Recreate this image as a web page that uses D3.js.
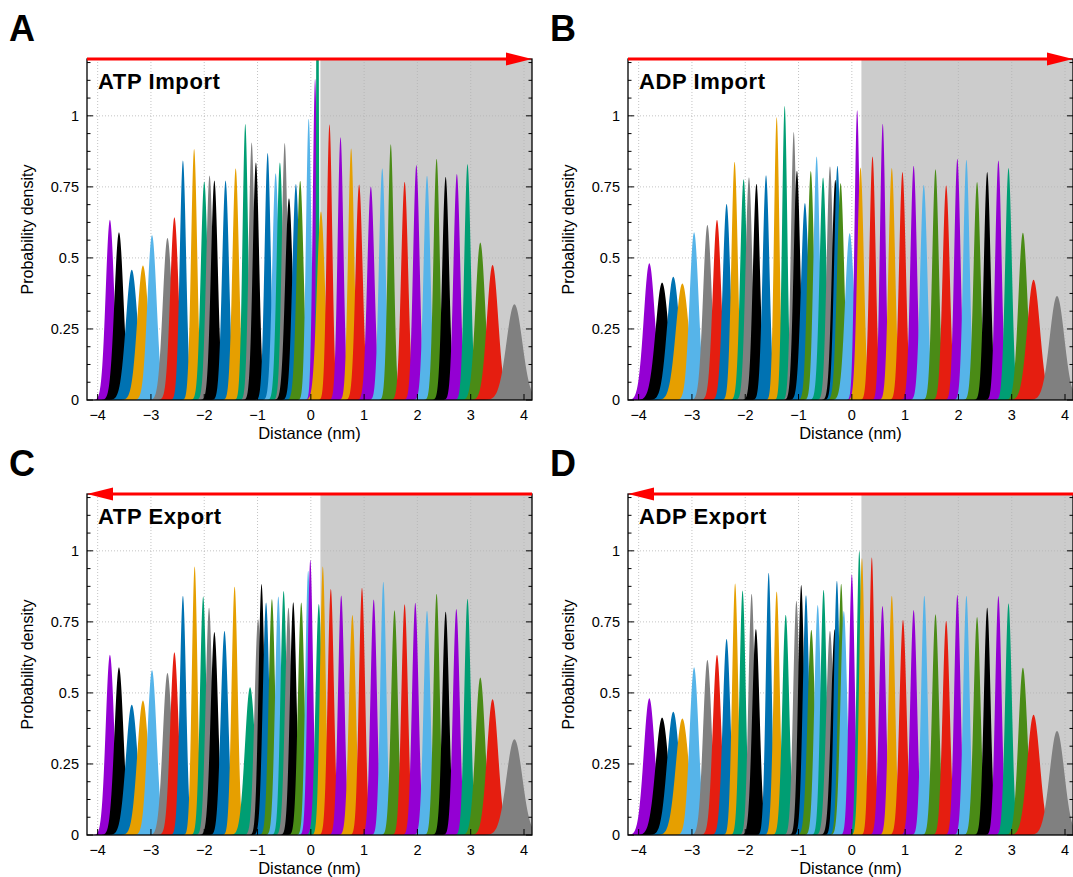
<!DOCTYPE html>
<html>
<head>
<meta charset="utf-8">
<script src="https://cdn.jsdelivr.net/npm/d3@7"></script>
<style>
  html, body { margin: 0; padding: 0; background: #ffffff; }
  svg { display: block; font-family: "Liberation Sans", Arial, Helvetica, sans-serif; }
</style>
</head>
<body>
<svg id="chart" width="1073" height="877"></svg>
<script>
// Umbrella-window distributions along the transport coordinate.
// Each window: centre (nm) and peak height (probability density).

const xTickValues = [-4, -3, -2, -1, 0, 1, 2, 3, 4];
const yTickValues = [0, 0.25, 0.5, 0.75, 1];
const yTickLabels = ["0", "0.25", "0.5", "0.75", "1"];

const panelLetters = ["A", "B", "C", "D"];
const panelTitles = ["ATP Import", "ADP Import", "ATP Export", "ADP Export"];
const arrowDirections = ["right", "right", "left", "left"];

// membrane region start (nm)
const shadeStart = 0.18;

// ATP import
const centersA = [-3.77,-3.60,-3.36,-3.15,-2.98,-2.69,-2.56,-2.40,-2.19,-2.00,-1.90,-1.81,-1.60,-1.41,-1.23,-1.11,-1.03,-0.81,-0.66,-0.58,-0.49,-0.41,-0.28,-0.20,-0.04,0.08,0.125,0.19,0.35,0.557,0.756,0.906,1.126,1.34,1.50,1.76,1.98,2.18,2.36,2.53,2.74,2.94,3.18,3.41,3.82];
const heightsA = [0.634,0.59,0.458,0.473,0.58,0.57,0.643,0.843,0.883,0.769,0.79,0.772,0.772,0.815,0.971,0.906,0.836,0.869,0.798,0.836,0.904,0.71,0.76,0.771,0.99,1.13,2.5,0.663,0.97,0.925,0.885,0.758,0.751,0.815,0.90,0.768,0.827,0.789,0.849,0.785,0.795,0.83,0.554,0.475,0.337];

// ADP import
const centersB = [-3.80,-3.56,-3.35,-3.18,-2.96,-2.71,-2.53,-2.35,-2.20,-2.03,-1.93,-1.79,-1.61,-1.41,-1.26,-1.09,-1.03,-0.88,-0.77,-0.66,-0.54,-0.41,-0.31,-0.27,-0.21,-0.04,0.10,0.163,0.388,0.58,0.75,0.95,1.16,1.35,1.57,1.77,1.98,2.15,2.35,2.54,2.75,2.94,3.21,3.41,3.85];
const heightsB = [0.481,0.413,0.434,0.41,0.59,0.616,0.634,0.69,0.838,0.777,0.784,0.761,0.791,0.995,1.035,0.943,0.807,0.693,0.806,0.857,0.783,0.822,0.775,0.824,0.763,0.587,1.02,0.818,0.857,0.972,0.816,0.802,0.824,0.757,0.812,0.755,0.849,0.845,0.767,0.802,0.843,0.816,0.589,0.423,0.366];

// ATP export
const centersC = [-3.77,-3.60,-3.36,-3.15,-2.98,-2.69,-2.56,-2.40,-2.18,-2.02,-1.91,-1.81,-1.62,-1.43,-1.14,-0.99,-0.925,-0.84,-0.73,-0.61,-0.51,-0.42,-0.33,-0.18,-0.05,-0.01,0.15,0.225,0.375,0.57,0.78,0.96,1.18,1.36,1.57,1.76,1.96,2.18,2.36,2.53,2.73,2.94,3.18,3.41,3.82];
const heightsC = [0.634,0.59,0.458,0.473,0.58,0.57,0.643,0.842,0.945,0.839,0.80,0.714,0.718,0.874,0.52,0.759,0.883,0.818,0.83,0.839,0.859,0.80,0.819,0.818,0.93,0.968,0.813,0.945,0.866,0.843,0.774,0.87,0.829,0.891,0.791,0.812,0.817,0.789,0.849,0.786,0.795,0.831,0.554,0.478,0.337];

// ADP export
const centersD = [-3.80,-3.56,-3.35,-3.18,-2.96,-2.71,-2.53,-2.35,-2.19,-2.05,-1.88,-1.80,-1.56,-1.41,-1.24,-1.04,-0.95,-0.86,-0.76,-0.64,-0.53,-0.41,-0.32,-0.28,-0.20,-0.15,0.0,0.14,0.19,0.375,0.575,0.75,0.96,1.16,1.36,1.57,1.77,1.98,2.15,2.35,2.54,2.75,2.94,3.21,3.41,3.85];
const heightsD = [0.481,0.413,0.434,0.41,0.59,0.616,0.634,0.69,0.885,0.86,0.849,0.725,0.923,0.857,0.775,0.824,0.88,0.844,0.722,0.809,0.863,0.718,0.724,0.895,0.884,0.788,0.918,1.0,0.974,0.977,0.806,0.842,0.757,0.792,0.842,0.777,0.754,0.845,0.842,0.767,0.8,0.841,0.815,0.589,0.423,0.366];

// line colours of each window, in drawing order
const palette = {
  P: "#9400d3", K: "#000000", B: "#0072b2", O: "#e69f00", S: "#56b4e9",
  G: "#808080", R: "#e51e10", T: "#009e73", L: "#4a8b16"
};
const colorKeysA = "P K B O S G R B O T G K B O T G K B S T G K B L S P T O R P O R P S L R P S L K P T L R G".split(" ");
const colorKeysB = "P K B O S G R B O T G K B O T G K B L S T G K B L S P O R P O R P S L R P S L K P T L R G".split(" ");
const colorKeysC = "P K B O S G R B O T G K B O T G K B L S T G K L S P T O R P O R P S L R P S L K P T L R G".split(" ");
const colorKeysD = "P K B O S G R B O T G K B O T G K B L S T G K B L S P T O R P O R P S L R P S L K P T L R G".split(" ");

const panels = [
  { centers: centersA, heights: heightsA, keys: colorKeysA },
  { centers: centersB, heights: heightsB, keys: colorKeysB },
  { centers: centersC, heights: heightsC, keys: colorKeysC },
  { centers: centersD, heights: heightsD, keys: colorKeysD }
];

// every window histogram carries the same integrated weight
const windowWeight = 0.125;

// ---- layout ----
const offsets = [[0, 0], [541, 0], [0, 435], [541, 435]];
const plot = { left: 87, right: 532, top: 59, bottom: 400 };

const x = d3.scaleLinear().domain([-4.2, 4.15]).range([plot.left, plot.right]);
const y = d3.scaleLinear().domain([0, 1.2]).range([plot.bottom, plot.top]);

const svg = d3.select("#chart");

const area = d3.area()
  .x(d => x(d[0]))
  .y0(y(0))
  .y1(d => y(d[1]));

function windowCurve(c, h) {
  const s = windowWeight / (h * Math.sqrt(2 * Math.PI));
  const pts = [];
  const n = 160;
  for (let i = 0; i <= n; i++) {
    const u = -5 + 10 * i / n;
    pts.push([c + u * s, h * Math.exp(-0.5 * u * u)]);
  }
  return pts;
}

const minorY = d3.range(0, 1.2, 0.0625).filter(v => Math.abs(v / 0.25 - Math.round(v / 0.25)) > 1e-6);

panels.forEach((p, pi) => {
  const [ox, oy] = offsets[pi];
  const g = svg.append("g").attr("transform", `translate(${ox},${oy})`);

  const clipId = "clip" + pi;
  g.append("clipPath").attr("id", clipId)
    .append("rect")
    .attr("x", plot.left).attr("y", plot.top)
    .attr("width", plot.right - plot.left).attr("height", plot.bottom - plot.top);

  // shaded membrane region
  g.append("rect")
    .attr("x", x(shadeStart)).attr("y", plot.top)
    .attr("width", plot.right - x(shadeStart)).attr("height", plot.bottom - plot.top)
    .attr("fill", "#cccccc");

  // grid
  const grid = g.append("g").attr("stroke", "#b4b4b4").attr("stroke-width", 0.8)
    .attr("stroke-dasharray", "1,2");
  grid.selectAll("line.gx").data(xTickValues).join("line")
    .attr("x1", d => x(d)).attr("x2", d => x(d))
    .attr("y1", plot.top).attr("y2", plot.bottom);
  grid.selectAll("line.gy").data(yTickValues.filter(v => v > 0)).join("line")
    .attr("x1", plot.left).attr("x2", plot.right)
    .attr("y1", d => y(d)).attr("y2", d => y(d));

  // window distributions
  const peaks = g.append("g").attr("clip-path", `url(#${clipId})`);
  p.centers.forEach((c, i) => {
    peaks.append("path")
      .attr("d", area(windowCurve(c, p.heights[i])))
      .attr("fill", palette[p.keys[i]]);
  });

  // frame
  g.append("rect")
    .attr("x", plot.left).attr("y", plot.top)
    .attr("width", plot.right - plot.left).attr("height", plot.bottom - plot.top)
    .attr("fill", "none").attr("stroke", "#000").attr("stroke-width", 1.3);

  // ticks (inward, mirrored on the right)
  const ticks = g.append("g").attr("stroke", "#000").attr("stroke-width", 1);
  yTickValues.forEach(v => {
    ticks.append("line").attr("x1", plot.left).attr("x2", plot.left + 6).attr("y1", y(v)).attr("y2", y(v));
    ticks.append("line").attr("x1", plot.right).attr("x2", plot.right - 6).attr("y1", y(v)).attr("y2", y(v));
  });
  minorY.forEach(v => {
    ticks.append("line").attr("x1", plot.left).attr("x2", plot.left + 3.5).attr("y1", y(v)).attr("y2", y(v));
    ticks.append("line").attr("x1", plot.right).attr("x2", plot.right - 3.5).attr("y1", y(v)).attr("y2", y(v));
  });
  xTickValues.forEach(v => {
    ticks.append("line").attr("x1", x(v)).attr("x2", x(v)).attr("y1", plot.bottom).attr("y2", plot.bottom - 6);
  });

  // tick labels
  g.selectAll("text.yl").data(yTickValues).join("text")
    .attr("x", plot.left - 8).attr("y", d => y(d) + 5)
    .attr("text-anchor", "end").attr("font-size", 14.5).attr("fill", "#000")
    .text((d, i) => yTickLabels[i]);
  g.selectAll("text.xl").data(xTickValues).join("text")
    .attr("x", d => x(d)).attr("y", plot.bottom + 19.5)
    .attr("text-anchor", "middle").attr("font-size", 14.5).attr("fill", "#000")
    .text(d => d < 0 ? "\u2212" + Math.abs(d) : String(d));

  // axis titles
  g.append("text")
    .attr("x", (plot.left + plot.right) / 2).attr("y", plot.bottom + 38.5)
    .attr("text-anchor", "middle").attr("font-size", 16.5).attr("fill", "#000")
    .text("Distance (nm)");
  g.append("text")
    .attr("transform", `translate(33,${(plot.top + plot.bottom) / 2}) rotate(-90)`)
    .attr("text-anchor", "middle").attr("font-size", 16).attr("fill", "#000")
    .text("Probability density");

  // panel title
  g.append("text")
    .attr("x", plot.left + 11).attr("y", plot.top + 30)
    .attr("font-size", 22).attr("font-weight", "bold").attr("letter-spacing", 0.6)
    .attr("fill", "#000")
    .text(panelTitles[pi]);

  // panel letter
  g.append("text")
    .attr("x", 9).attr("y", 41)
    .attr("font-size", 36).attr("font-weight", "bold").attr("fill", "#000")
    .text(panelLetters[pi]);

  // transport direction arrow along the top edge
  const ay = plot.top;
  const headLen = 26, headHalf = 6.5;
  const arrow = g.append("g").attr("fill", "#ff0000").attr("stroke", "#ff0000");
  if (arrowDirections[pi] === "right") {
    arrow.append("line").attr("x1", plot.left).attr("x2", plot.right - headLen + 2)
      .attr("y1", ay).attr("y2", ay).attr("stroke-width", 3);
    arrow.append("path").attr("stroke", "none")
      .attr("d", `M${plot.right},${ay} L${plot.right - headLen},${ay - headHalf} L${plot.right - headLen},${ay + headHalf} Z`);
  } else {
    arrow.append("line").attr("x1", plot.left + headLen - 2).attr("x2", plot.right)
      .attr("y1", ay).attr("y2", ay).attr("stroke-width", 3);
    arrow.append("path").attr("stroke", "none")
      .attr("d", `M${plot.left},${ay} L${plot.left + headLen},${ay - headHalf} L${plot.left + headLen},${ay + headHalf} Z`);
  }
});
</script>
</body>
</html>
